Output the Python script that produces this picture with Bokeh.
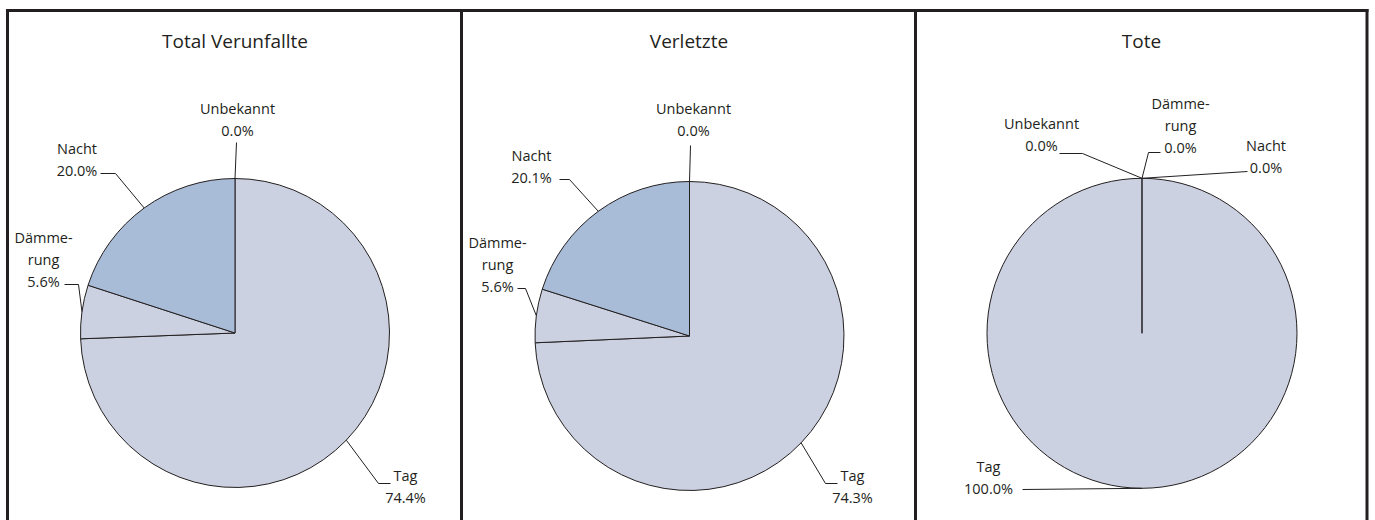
import math
from bokeh.plotting import figure
from bokeh.models import Range1d, ColumnDataSource
from bokeh.core.properties import value
from bokeh.embed import file_html
from bokeh.resources import INLINE

# ---------------- data ----------------
panel_titles = ["Total Verunfallte", "Verletzte", "Tote"]
categories = ["Tag", "Dämmerung", "Nacht", "Unbekannt"]
category_labels = ["Tag", "Dämme-\nrung", "Nacht", "Unbekannt"]
total_values = [74.4, 5.6, 20.0, 0.0]
injured_values = [74.3, 5.6, 20.1, 0.0]
dead_values = [100.0, 0.0, 0.0, 0.0]
slice_colors = ["#CBD1E0", "#CBD1E0", "#A8BCD7", "#CBD1E0"]

panel_values = [total_values, injured_values, dead_values]

# ---------------- layout (page pixel positions) ----------------
W, H = 1375, 520
FONT = "Open Sans"
INK = "#231F20"
LINE_GAP = 22


def X(px):
    return px


def Y(py):
    return H - py


layouts = [
    dict(cx=234.5, cy=332.5, r=154.5, title=(234.5, 40),
         labels=[
             dict(x=405, y=497, path=[(378, 483), (390, 483)]),
             dict(x=43, y=281, path=[(78, 284), (64, 284)]),
             dict(x=76.5, y=170, path=[(115, 173), (100, 173)]),
             dict(x=237, y=130, path=[(236, 142)]),
         ]),
    dict(cx=689, cy=335.5, r=154.5, title=(688.5, 40),
         labels=[
             dict(x=852, y=497, path=[(825, 483), (837, 483)]),
             dict(x=497, y=286, path=[(525, 288), (517, 288)]),
             dict(x=531, y=177, path=[(569, 179), (559, 179)]),
             dict(x=693, y=130, path=[(690, 145)]),
         ]),
    dict(cx=1141.5, cy=332.8, r=155, title=(1141, 40),
         labels=[
             dict(x=988, y=488, path=[(1022, 489)]),
             dict(x=1180, y=147, path=[(1148, 152), (1160, 152)]),
             dict(x=1265.5, y=167, path=[(1247, 171)]),
             dict(x=1041, y=145, path=[(1082, 153), (1059, 153)]),
         ]),
]

p = figure(width=W, height=H, x_range=Range1d(0, W), y_range=Range1d(0, H),
           output_backend="svg", toolbar_location=None, min_border=0,
           x_axis_location=None, y_axis_location=None)
p.grid.visible = False
p.outline_line_color = None
p.background_fill_color = "white"
p.border_fill_color = "white"

# frame lines (panel borders, open at the bottom)
frame_x = [7, 461, 915, 1366.5]
p.segment(x0=[X(v) for v in frame_x], y0=[Y(8.5)] * 4,
          x1=[X(v) for v in frame_x], y1=[Y(H + 5)] * 4,
          line_color=INK, line_width=3)
p.segment(x0=[X(5.5)], y0=[Y(10)], x1=[X(1368)], y1=[Y(10)],
          line_color=INK, line_width=3)

for k, vals in enumerate(panel_values):
    lay = layouts[k]
    cx, cy, r = X(lay["cx"]), Y(lay["cy"]), lay["r"]
    starts, ends, mids = [], [], []
    cum = 0.0
    for v in vals:
        sweep = min(v * 3.6, 359.99)
        a0 = 90.0 - cum * 3.6
        a1 = a0 - sweep
        starts.append(math.radians(a0))
        ends.append(math.radians(a1))
        mids.append(math.radians((a0 + a1) / 2))
        cum += v
    keep = [i for i, v in enumerate(vals) if v > 0]
    src = ColumnDataSource(dict(start=[starts[i] for i in keep],
                                end=[ends[i] for i in keep],
                                color=[slice_colors[i] for i in keep],
                                cat=[categories[i] for i in keep],
                                val=[vals[i] for i in keep]))
    p.wedge(x=cx, y=cy, radius=r, start_angle="start", end_angle="end",
            direction="clock", fill_color="color", line_color=INK,
            line_width=1, source=src)

    # leader lines and labels
    xs, ys = [], []
    tx, ty, tt = [], [], []
    for i, (lab, v) in enumerate(zip(category_labels, vals)):
        spec = lay["labels"][i]
        ex = cx + r * math.cos(mids[i])
        ey = cy + r * math.sin(mids[i])
        xs.append([ex] + [X(a) for a, b in spec["path"]])
        ys.append([ey] + [Y(b) for a, b in spec["path"]])
        lines = lab.split("\n") + [f"{v:.1f}%"]
        n = len(lines)
        for j, t in enumerate(lines):
            tx.append(X(spec["x"]))
            ty.append(Y(spec["y"] - (n - 1 - j) * LINE_GAP))
            tt.append(t)
    p.multi_line(xs=xs, ys=ys, line_color=INK, line_width=1)
    p.text(x=tx, y=ty, text=tt, text_align="center", text_baseline="middle",
           text_font=value(FONT), text_font_size="14.5px", text_color=INK)

    # title
    p.text(x=[X(lay["title"][0])], y=[Y(lay["title"][1])], text=[panel_titles[k]],
           text_align="center", text_baseline="middle", text_font=value(FONT),
           text_font_size="19px", text_color=INK)

open("out.html", "w").write(file_html(p, INLINE))
